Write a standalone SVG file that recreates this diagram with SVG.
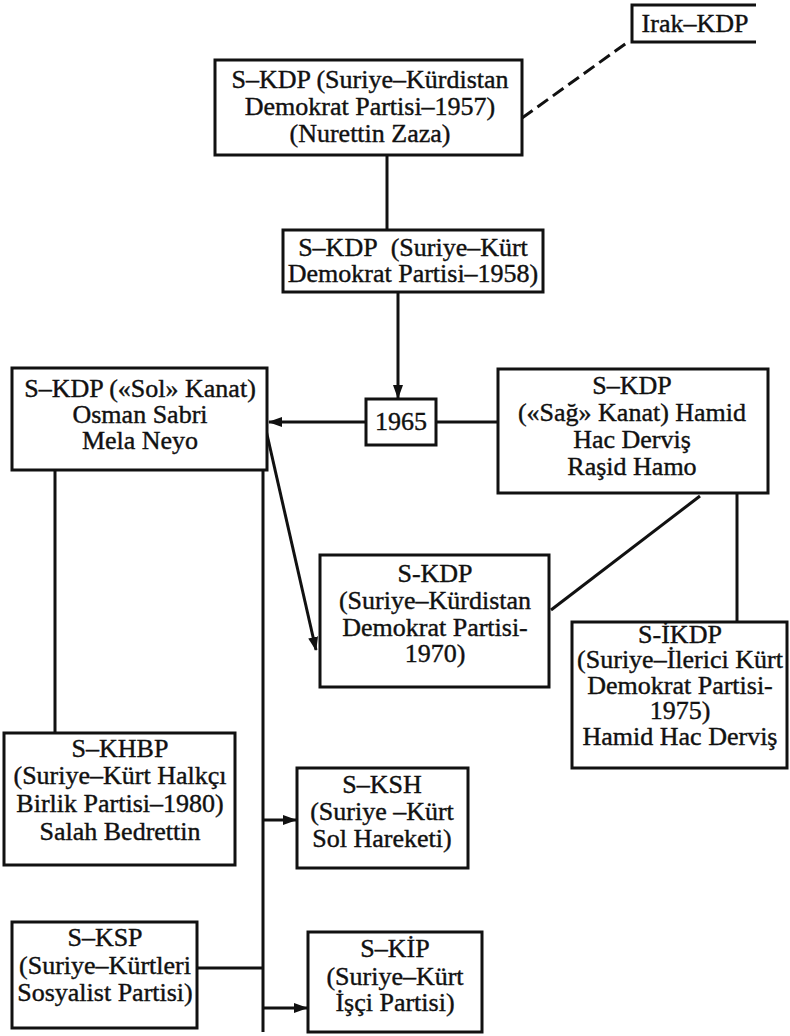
<svg xmlns="http://www.w3.org/2000/svg" width="790" height="1036" viewBox="0 0 790 1036">
<style>
.box{fill:#fff;stroke:#111;stroke-width:3}
.t{font-family:"Liberation Serif","Times New Roman",serif;font-size:26px;fill:#111;stroke:#111;stroke-width:0.4;text-anchor:middle}
.ln{fill:none;stroke:#111;stroke-width:3}
</style>
<defs>
<marker id="ah" markerUnits="userSpaceOnUse" markerWidth="14" markerHeight="10" refX="13" refY="5" orient="auto">
<path d="M0,0 L14,5 L0,10 Z" fill="#111"/>
</marker>
</defs>
<rect width="790" height="1036" fill="#fff"/>
<g id="connectors">
<line class="ln" x1="387" y1="155" x2="387" y2="230"/>
<line class="ln" x1="398" y1="292" x2="398" y2="398" marker-end="url(#ah)"/>
<line class="ln" x1="366" y1="422" x2="269" y2="422" marker-end="url(#ah)"/>
<line class="ln" x1="436" y1="422" x2="498" y2="422"/>
<line class="ln" x1="266" y1="430" x2="316" y2="650" marker-end="url(#ah)"/>
<line class="ln" x1="700" y1="496" x2="551" y2="610"/>
<line class="ln" x1="737" y1="493" x2="737" y2="622"/>
<line class="ln" x1="55" y1="470" x2="55" y2="733"/>
<line class="ln" x1="263" y1="470" x2="263" y2="1032"/>
<line class="ln" x1="263" y1="820" x2="296" y2="820" marker-end="url(#ah)"/>
<line class="ln" x1="197" y1="968" x2="263" y2="968" stroke-width="4"/>
<line class="ln" x1="263" y1="1008" x2="307" y2="1008" marker-end="url(#ah)"/>
<line class="ln" x1="522" y1="118" x2="628" y2="42" stroke-width="4" stroke-dasharray="13,6"/>
</g>
<g id="irak-kdp">
<path class="ln" d="M756,5 H632 V42 H756" stroke-width="4"/>
<text class="t" x="695" y="32">Irak–KDP</text>
</g>
<g id="skdp-1957">
<rect class="box" x="215" y="60" width="307" height="95"/>
<text class="t" x="370" y="88">S–KDP (Suriye–Kürdistan</text>
<text class="t" x="370" y="115">Demokrat Partisi–1957)</text>
<text class="t" x="370" y="142">(Nurettin Zaza)</text>
</g>
<g id="skdp-1958">
<rect class="box" x="283" y="230" width="260" height="62"/>
<text class="t" x="413" y="256">S–KDP&#160; (Suriye–Kürt</text>
<text class="t" x="413" y="282">Demokrat Partisi–1958)</text>
</g>
<g id="y1965">
<rect class="box" x="366" y="399" width="70" height="46"/>
<text class="t" x="401" y="430">1965</text>
</g>
<g id="sol">
<rect class="box" x="12" y="368" width="255" height="102"/>
<text class="t" x="140" y="397">S–KDP («Sol» Kanat)</text>
<text class="t" x="140" y="423">Osman Sabri</text>
<text class="t" x="140" y="449">Mela Neyo</text>
</g>
<g id="sag">
<rect class="box" x="498" y="369" width="270" height="124"/>
<text class="t" x="632" y="394">S–KDP</text>
<text class="t" x="632" y="421">(«Sağ» Kanat) Hamid</text>
<text class="t" x="632" y="448">Hac Derviş</text>
<text class="t" x="632" y="475">Raşid Hamo</text>
</g>
<g id="skdp-1970">
<rect class="box" x="320" y="555" width="229" height="132"/>
<text class="t" x="435" y="582">S-KDP</text>
<text class="t" x="435" y="609">(Suriye–Kürdistan</text>
<text class="t" x="435" y="636">Demokrat Partisi-</text>
<text class="t" x="435" y="662">1970)</text>
</g>
<g id="sikdp">
<rect class="box" x="572" y="622" width="215" height="146"/>
<text class="t" x="680" y="643">S-İKDP</text>
<text class="t" x="680" y="668">(Suriye–İlerici Kürt</text>
<text class="t" x="680" y="694">Demokrat Partisi-</text>
<text class="t" x="680" y="719">1975)</text>
<text class="t" x="680" y="745">Hamid Hac Derviş</text>
</g>
<g id="skhbp">
<rect class="box" x="4" y="733" width="231" height="132"/>
<text class="t" x="120" y="757">S–KHBP</text>
<text class="t" x="120" y="784">(Suriye–Kürt Halkçı</text>
<text class="t" x="120" y="812">Birlik Partisi–1980)</text>
<text class="t" x="120" y="840">Salah Bedrettin</text>
</g>
<g id="sksh">
<rect class="box" x="297" y="768" width="171" height="100"/>
<text class="t" x="382" y="793">S–KSH</text>
<text class="t" x="382" y="820">(Suriye –Kürt</text>
<text class="t" x="382" y="847">Sol Hareketi)</text>
</g>
<g id="sksp">
<rect class="box" x="12" y="922" width="185" height="106"/>
<text class="t" x="105" y="946">S–KSP</text>
<text class="t" x="105" y="974">(Suriye–Kürtleri</text>
<text class="t" x="105" y="1001">Sosyalist Partisi)</text>
</g>
<g id="skip">
<rect class="box" x="308" y="932" width="174" height="100"/>
<text class="t" x="395" y="957">S–KİP</text>
<text class="t" x="395" y="985">(Suriye–Kürt</text>
<text class="t" x="395" y="1011">İşçi Partisi)</text>
</g>
</svg>
